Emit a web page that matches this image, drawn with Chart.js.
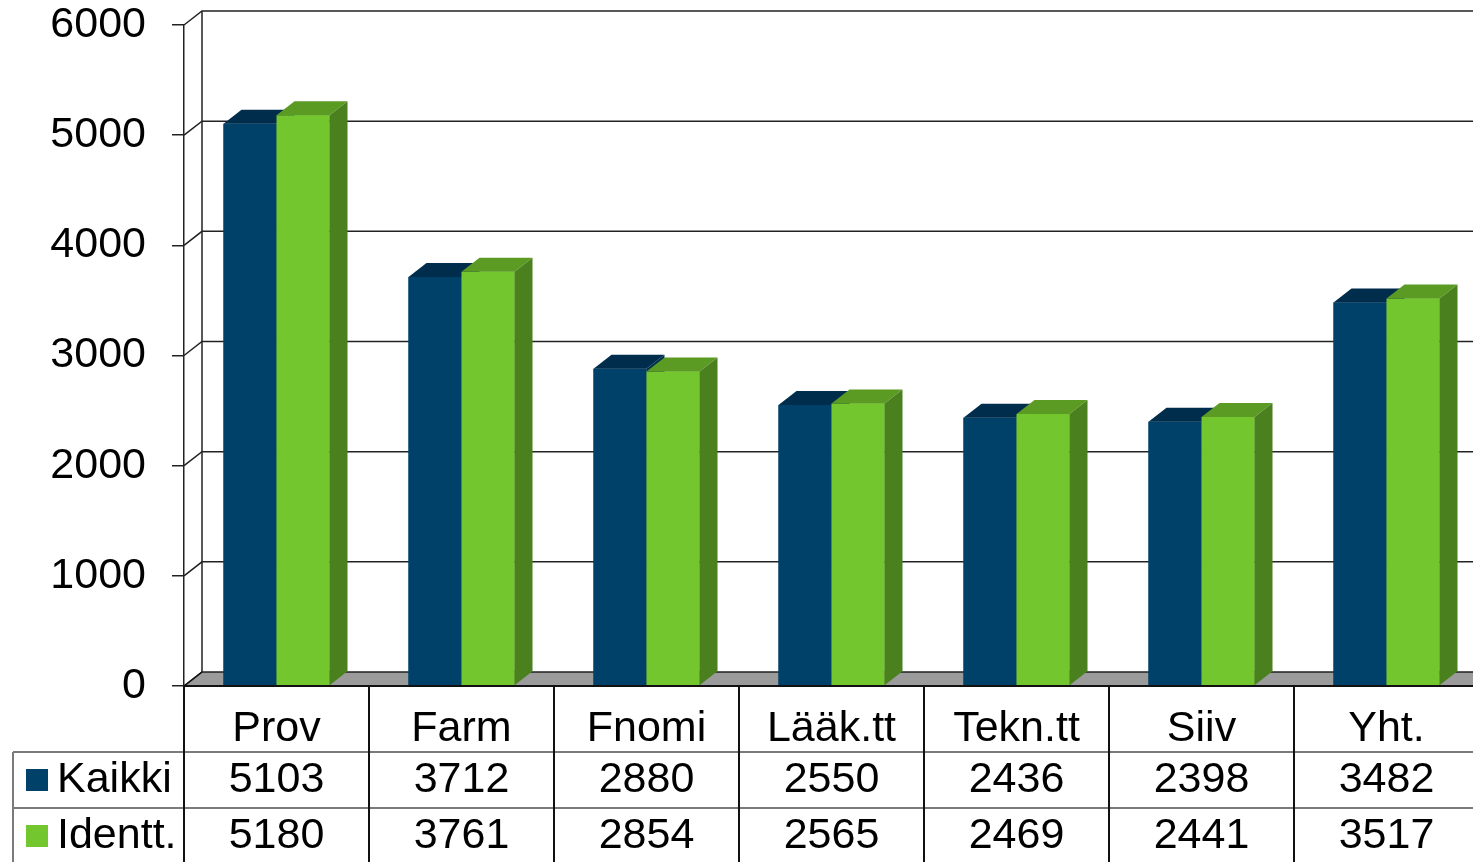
<!DOCTYPE html>
<html>
<head>
<meta charset="utf-8">
<script src="https://cdn.jsdelivr.net/npm/chart.js@4/dist/chart.umd.min.js"></script>
<style>
html,body{margin:0;padding:0;background:#fff;overflow:hidden;}
canvas{display:block;}
</style>
</head>
<body>
<canvas id="c" width="1500" height="862"></canvas>
<script>
const categories = ['Prov','Farm','Fnomi','Lääk.tt','Tekn.tt','Siiv','Yht.'];
const seriesNames = ['Kaikki','Identt.'];
const kaikki = [5103,3712,2880,2550,2436,2398,3482];
const identt = [5180,3761,2854,2565,2469,2441,3517];
const yMin = 0, yMax = 6000, yStep = 1000;

const FONT = '"Liberation Sans", Arial, sans-serif';
const FS = 43;
const DX = 18, DY = -14;
const faceColors = [
  {front:'#00416a', top:'#002d4b', side:'#00304f'},
  {front:'#74c62f', top:'#5b9b23', side:'#4b801e'}
];

const threeD = {
  id:'threeD',
  beforeDatasetsDraw(chart){
    const ctx = chart.ctx, y = chart.scales.y, a = chart.chartArea;
    ctx.save();
    const y0 = y.getPixelForValue(0);
    ctx.fillStyle = '#9b9b9b';
    ctx.beginPath();
    ctx.moveTo(a.left, y0); ctx.lineTo(a.right, y0);
    ctx.lineTo(a.right+DX, y0+DY); ctx.lineTo(a.left+DX, y0+DY);
    ctx.closePath(); ctx.fill();
    ctx.strokeStyle = '#222'; ctx.lineWidth = 1.5;
    for (let v = yMin; v <= yMax; v += yStep){
      const p = y.getPixelForValue(v);
      ctx.beginPath();
      ctx.moveTo(a.left, p); ctx.lineTo(a.left+DX, p+DY); ctx.lineTo(a.right+DX+40, p+DY);
      ctx.stroke();
    }
    ctx.beginPath();
    ctx.moveTo(a.left+DX, y.getPixelForValue(yMax)+DY);
    ctx.lineTo(a.left+DX, y0+DY);
    ctx.stroke();
    ctx.restore();
  },
  afterDatasetsDraw(chart){
    const ctx = chart.ctx;
    ctx.save();
    chart.data.datasets.forEach((ds, i) => {
      const meta = chart.getDatasetMeta(i);
      const c = faceColors[i];
      meta.data.forEach(el => {
        el.draw(ctx);
        const p = el.getProps(['x','y','base','width'], true);
        const l = p.x - p.width/2, r = p.x + p.width/2, t = p.y, b = p.base;
        ctx.fillStyle = c.top;
        ctx.beginPath();
        ctx.moveTo(l, t); ctx.lineTo(r, t); ctx.lineTo(r+DX, t+DY); ctx.lineTo(l+DX, t+DY);
        ctx.closePath(); ctx.fill();
        ctx.fillStyle = c.side;
        ctx.beginPath();
        ctx.moveTo(r, t); ctx.lineTo(r+DX, t+DY); ctx.lineTo(r+DX, b+DY); ctx.lineTo(r, b);
        ctx.closePath(); ctx.fill();
      });
    });
    ctx.restore();
  },
  afterDraw(chart){
    const ctx = chart.ctx, x = chart.scales.x, y = chart.scales.y, a = chart.chartArea;
    const y0 = y.getPixelForValue(0);
    ctx.save();
    ctx.strokeStyle = '#111'; ctx.lineWidth = 2;
    ctx.beginPath(); ctx.moveTo(a.left, y0); ctx.lineTo(a.right+40, y0); ctx.stroke();
    ctx.lineWidth = 1.5;
    ctx.beginPath(); ctx.moveTo(a.left, y0); ctx.lineTo(a.left+DX, y0+DY); ctx.stroke();
    const colW = (a.right - a.left)/categories.length;
    ctx.strokeStyle = '#7a7a7a'; ctx.lineWidth = 2;
    [752, 808].forEach(yy => { ctx.beginPath(); ctx.moveTo(13, yy); ctx.lineTo(a.right+40, yy); ctx.stroke(); });
    ctx.beginPath(); ctx.moveTo(13, 752); ctx.lineTo(13, 862); ctx.stroke();
    ctx.strokeStyle = '#111'; ctx.lineWidth = 2;
    for (let i = 0; i <= categories.length; i++){
      const xx = x.getPixelForValue(i) - colW/2;
      ctx.beginPath(); ctx.moveTo(xx, y0); ctx.lineTo(xx, 862); ctx.stroke();
    }
    ctx.fillStyle = '#000';
    ctx.font = FS + 'px ' + FONT;
    ctx.textAlign = 'center'; ctx.textBaseline = 'middle';
    const series = [kaikki, identt];
    categories.forEach((cat, i) => {
      const cx = x.getPixelForValue(i);
      ctx.fillText(cat, cx, 729);
      ctx.fillText(String(series[0][i]), cx, 780);
      ctx.fillText(String(series[1][i]), cx, 836);
    });
    ctx.textAlign = 'left';
    const ly = [780, 836];
    seriesNames.forEach((n, k) => {
      ctx.fillStyle = faceColors[k].front;
      ctx.fillRect(26, ly[k]-11, 22, 22);
      ctx.fillStyle = '#000';
      ctx.fillText(n, 57, ly[k]);
    });
    ctx.restore();
  }
};

new Chart(document.getElementById('c'), {
  type:'bar',
  data:{
    labels: categories,
    datasets:[
      {label:seriesNames[0], data:kaikki, backgroundColor:faceColors[0].front,
       categoryPercentage:0.573, barPercentage:1.0, borderWidth:0},
      {label:seriesNames[1], data:identt, backgroundColor:faceColors[1].front,
       categoryPercentage:0.573, barPercentage:1.0, borderWidth:0}
    ]
  },
  options:{
    responsive:false,
    animation:false,
    layout:{padding:{left:0, right:21, top:25, bottom:176}},
    plugins:{legend:{display:false}, tooltip:{enabled:false}},
    scales:{
      x:{display:false},
      y:{
        min:yMin, max:yMax,
        afterFit(s){ s.width = 184; s.paddingTop = 0; s.paddingBottom = 0; },
        ticks:{stepSize:yStep, color:'#000', font:{family:FONT, size:FS}, padding:26,
               callback:(v) => String(v)},
        grid:{drawOnChartArea:false, drawTicks:true, tickLength:12, color:'#222', lineWidth:1.5},
        border:{display:true, color:'#222', width:1.5}
      }
    }
  },
  plugins:[threeD]
});
</script>
</body>
</html>
